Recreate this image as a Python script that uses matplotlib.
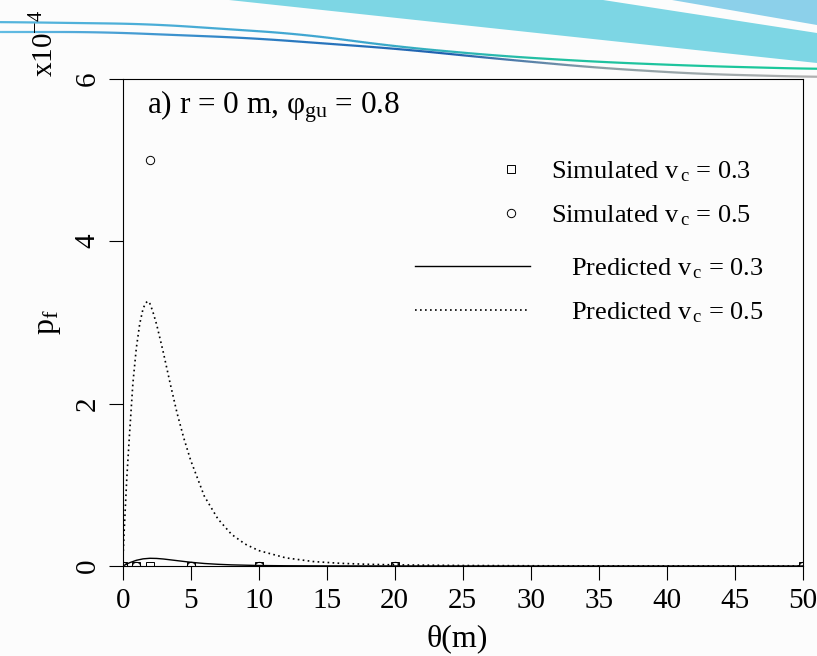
import numpy as np
import matplotlib.pyplot as plt
from matplotlib.patches import Polygon
from matplotlib.collections import LineCollection
from matplotlib.colors import to_rgb

plt.rcParams['font.family'] = ['Liberation Serif', 'DejaVu Serif']
plt.rcParams['mathtext.fontset'] = 'custom'
plt.rcParams['mathtext.rm'] = 'Liberation Serif'
plt.rcParams['mathtext.it'] = 'Liberation Serif:italic'

# failure probability in units of 1e-4
theta_sim = [0, 1, 2, 5, 10, 20, 50]
pf_sim_03 = [0, 0, 0, 0, 0, 0, 0]
pf_sim_05 = [0, 0, 5.0, 0, 0, 0, 0]

theta_pred_05 = [0, 0.1, 0.3, 0.5, 0.75, 1.0, 1.25, 1.5, 1.7, 1.85, 2.0, 2.2, 2.5, 3.0, 3.5,
                 4.0, 4.5, 5, 6, 7, 8, 9, 10, 12, 14, 16, 18, 20, 25, 30, 35, 40, 50]
pf_pred_05 = [0, 0.40, 1.08, 1.62, 2.25, 2.68, 2.98, 3.17, 3.24, 3.26, 3.23, 3.14, 2.97, 2.62, 2.24,
              1.88, 1.57, 1.30, 0.86, 0.58, 0.39, 0.27, 0.19, 0.10, 0.055, 0.033, 0.021, 0.014,
              0.006, 0.003, 0.0015, 0.001, 0.0003]

theta_pred_03 = [0, 0.25, 0.5, 1, 1.5, 2, 2.5, 3, 4, 5, 6, 7, 8, 10, 12, 15, 20, 30, 50]
pf_pred_03 = [0, 0.02, 0.04, 0.07, 0.088, 0.095, 0.093, 0.086, 0.066, 0.046, 0.031, 0.021,
              0.014, 0.006, 0.003, 0.0012, 0.0004, 0.0001, 0]

xticks = [0, 5, 10, 15, 20, 25, 30, 35, 40, 45, 50]
yticks = [0, 2, 4, 6]

W, H = 817, 656
FS_TICK = 21
FS_LEG = 19
FS_LAB = 23


def fxy(pts):
    return [(x / W, 1 - y / H) for x, y in pts]


def swoosh(fig, xs, ys, stops, lw):
    # thin decorative header line, smoothed, with colour running along it
    x = np.arange(-60, W + 61, 2.0)
    y = np.interp(x, xs, ys)
    k = np.ones(41) / 41
    y = np.convolve(np.pad(y, 20, mode='edge'), k, mode='valid')
    pts = np.array(fxy(zip(x, y)))
    segs = np.stack([pts[:-1], pts[1:]], axis=1)
    sx = [s[0] for s in stops]
    rgb = np.array([to_rgb(s[1]) for s in stops])
    xm = (x[:-1] + x[1:]) / 2
    cols = np.column_stack([np.interp(xm, sx, rgb[:, i]) for i in range(3)])
    fig.add_artist(LineCollection(segs, colors=cols, linewidths=lw, transform=fig.transFigure))


fig = plt.figure(figsize=(W / 100, H / 100), dpi=100)
fig.patch.set_facecolor('#fcfcfc')

# header decoration
fig.add_artist(Polygon(fxy([(229, 0), (603, 0), (817, 33), (817, 63)]), closed=True,
                       fc='#7dd6e4', ec='none', transform=fig.transFigure))
fig.add_artist(Polygon(fxy([(672, 0), (817, 0), (817, 25)]), closed=True,
                       fc='#8cd0ea', ec='none', transform=fig.transFigure))
swoosh(fig, [0, 150, 300, 400, 500, 600, 700, 817], [22, 24, 34, 47, 56, 62, 66, 69],
       [(0, '#55b5dd'), (350, '#3aa3cf'), (550, '#20c0a0'), (817, '#19c99a')], 1.6)
swoosh(fig, [0, 100, 250, 400, 500, 600, 700, 817], [32, 32, 38, 49, 59, 68, 74, 77],
       [(0, '#62bde3'), (250, '#2b7fc4'), (450, '#1d5fae'), (600, '#8a9ea4'), (817, '#b0b0b0')], 1.6)

ax = fig.add_axes([122.7 / W, 1 - 566 / H, 680 / W, 487.4 / H])
ax.set_facecolor('none')

h_sq, = ax.plot(theta_sim, pf_sim_03, ls='none', marker='s', ms=6, mfc='none', mec='k', mew=0.7)
h_ci, = ax.plot(theta_sim, pf_sim_05, ls='none', marker='o', ms=6, mfc='none', mec='k', mew=0.7)
l03, = ax.plot(theta_pred_03, pf_pred_03, color='k', lw=1.0)
l05, = ax.plot(theta_pred_05, pf_pred_05, color='k', lw=1.2, ls=(0, (1, 2)))

ax.set_xlim(0, 50)
ax.set_ylim(0, 6)
ax.set_xticks(xticks)
ax.set_yticks(yticks)
ax.tick_params(direction='out', length=10, width=0.8, labelsize=FS_TICK, colors='k')
ax.tick_params(axis='x', pad=5.5)
ax.tick_params(axis='y', pad=6, labelrotation=90)
plt.setp(ax.get_yticklabels(), va='center')
for s in ax.spines.values():
    s.set_linewidth(0.8)

fig.text(457 / W, 1 - 646 / H, 'θ(m)', ha='center', va='baseline', fontsize=FS_LAB)
fig.text(54 / W, 1 - 322 / H, r'$\mathrm{p_f}$', rotation=90, rotation_mode='anchor',
         ha='center', va='baseline', fontsize=FS_LAB)
fig.text(53 / W, 1 - 77 / H, r'x10$^{-4}$', rotation=90, rotation_mode='anchor',
         ha='left', va='baseline', fontsize=FS_TICK)

ax.text(0.036, 0.929, r'a) r = 0 m, $\mathrm{φ_{gu}}$ = 0.8', transform=ax.transAxes,
        va='baseline', fontsize=22.5)

leg1 = ax.legend([h_sq, h_ci], [r'Simulated $\mathrm{v_{\,c}}$ = 0.3', r'Simulated $\mathrm{v_{\,c}}$ = 0.5'],
                 loc='upper left', bbox_to_anchor=(498 / W, 1 - 159 / H), bbox_transform=fig.transFigure,
                 frameon=False, fontsize=FS_LEG, handlelength=1.0, handletextpad=1.0, borderpad=0,
                 borderaxespad=0, labelspacing=0.74)
ax.add_artist(leg1)
ax.legend([l03, l05], [r'Predicted $\mathrm{v_{\,c}}$ = 0.3', r'Predicted $\mathrm{v_{\,c}}$ = 0.5'],
          loc='upper left', bbox_to_anchor=(415 / W, 1 - 256 / H), bbox_transform=fig.transFigure,
          frameon=False, fontsize=FS_LEG, handlelength=4.36, handletextpad=1.54, borderpad=0,
          borderaxespad=0, labelspacing=0.74)

fig.savefig('out.png', dpi=100, facecolor=fig.get_facecolor())
